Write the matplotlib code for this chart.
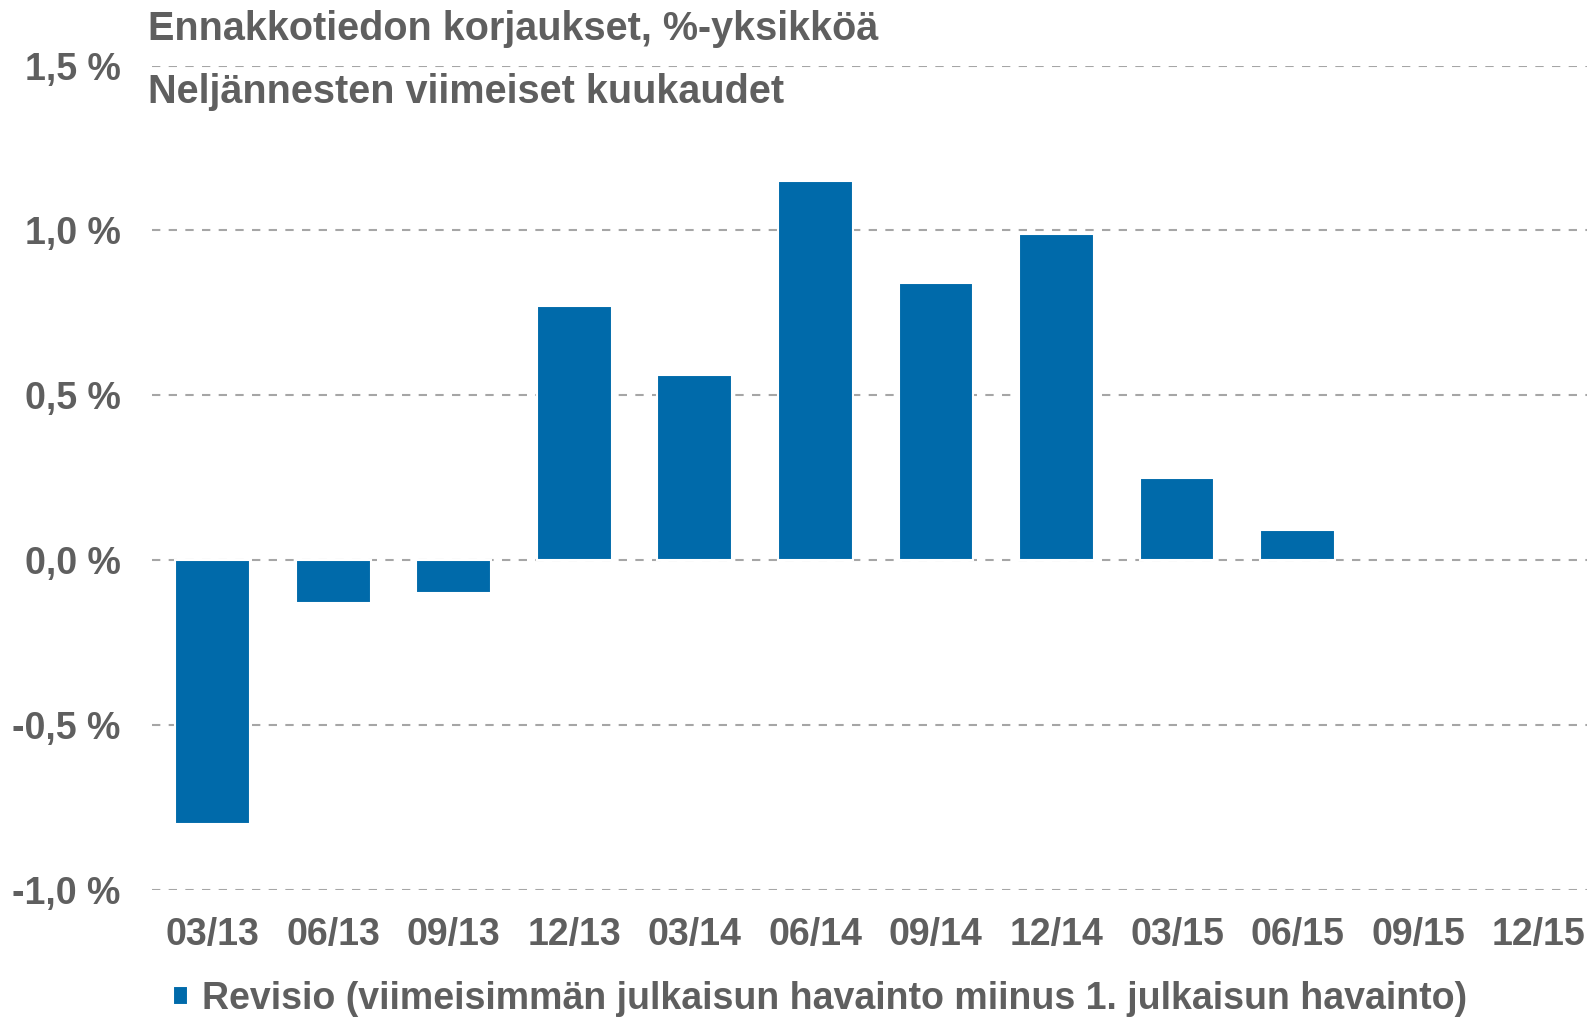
import numpy as np
import matplotlib.pyplot as plt

plt.rcParams['font.family'] = ['Liberation Sans', 'DejaVu Sans']

# neljännesten viimeiset kuukaudet
kaudet = ["03/13", "06/13", "09/13", "12/13", "03/14", "06/14",
          "09/14", "12/14", "03/15", "06/15", "09/15", "12/15"]
# revisio, %-yksikköä (09/15 ja 12/15 puuttuvat)
revisio = [-0.80, -0.13, -0.10, 0.77, 0.56, 1.15,
           0.84, 0.99, 0.25, 0.09, np.nan, np.nan]
yticks = [-1.0, -0.5, 0.0, 0.5, 1.0, 1.5]
ytick_labels = ["-1,0 %", "-0,5 %", "0,0 %", "0,5 %", "1,0 %", "1,5 %"]

sininen = "#006AAA"
harmaa = "#5F5F5F"

fig = plt.figure(figsize=(15.87, 10.19), dpi=100)
ax = fig.add_axes([0.096, 0.127, 0.9115, 0.8085])

x = np.arange(len(kaudet))
ax.bar(x, revisio, width=0.62, color=sininen, edgecolor="white", linewidth=1.5,
       label="Revisio (viimeisimmän julkaisun havainto miinus 1. julkaisun havainto)",
       zorder=3)

ax.set_xlim(-0.5, len(kaudet) - 0.5)
ax.set_ylim(-1.0, 1.5)
ax.set_yticks(yticks)
ax.set_yticklabels(ytick_labels)
ax.set_xticks(x)
ax.set_xticklabels(kaudet)
ax.yaxis.grid(True, color="#A6A6A6", linestyle=(0, (4, 4)), linewidth=1.5, zorder=0)
ax.set_axisbelow(True)
for s in ax.spines.values():
    s.set_visible(False)
ax.tick_params(length=0, labelsize=27, labelcolor=harmaa, pad=23)
ax.tick_params(axis="x", pad=20)
for t in ax.get_xticklabels() + ax.get_yticklabels():
    t.set_fontweight("bold")

fig.text(0.093, 0.961, "Ennakkotiedon korjaukset, %-yksikköä", fontsize=28.5,
         fontweight="bold", color=harmaa, va="baseline")
fig.text(0.093, 0.899, "Neljännesten viimeiset kuukaudet", fontsize=28.5,
         fontweight="bold", color=harmaa, va="baseline")

leg = fig.legend(loc="lower left", bbox_to_anchor=(0.088, -0.031), frameon=False,
                 handlelength=0.4, handleheight=0.4, handletextpad=0.35,
                 prop={"size": 27, "weight": "bold"})
for t in leg.get_texts():
    t.set_color(harmaa)

fig.savefig("out.png", dpi=100)
